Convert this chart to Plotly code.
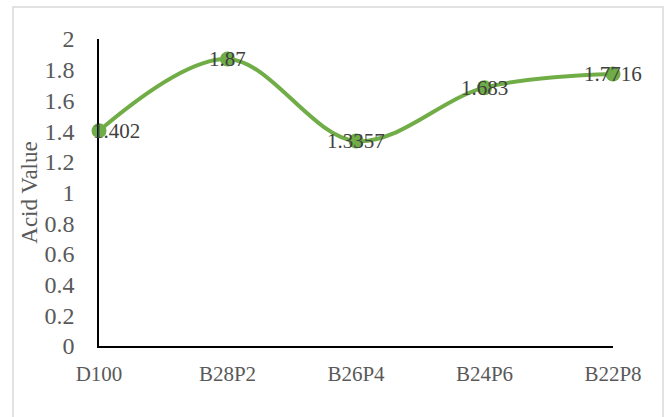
import plotly.graph_objects as go

categories = ["D100", "B28P2", "B26P4", "B24P6", "B22P8"]
acid_values = [1.402, 1.87, 1.3357, 1.683, 1.7716]
label_texts = ["1.402", "1.87", "1.3357", "1.683", "1.7716"]
y_ticks = [0, 0.2, 0.4, 0.6, 0.8, 1, 1.2, 1.4, 1.6, 1.8, 2]
y_tick_labels = ["0", "0.2", "0.4", "0.6", "0.8", "1", "1.2", "1.4", "1.6", "1.8", "2"]

GREEN = "#70AD47"
TEXT = "#404040"
TICK = "#595959"
FONT = "Liberation Serif"

L, R, T, B = 99, 54, 39, 71
W, H = 667, 417
pw, ph = W - L - R, H - T - B

fig = go.Figure()
fig.add_trace(go.Scatter(
    x=list(range(len(categories))),
    y=acid_values,
    mode="lines+markers",
    line=dict(color=GREEN, width=4, shape="spline", smoothing=1.0),
    marker=dict(color=GREEN, size=15),
    cliponaxis=False,
    hoverinfo="skip",
    showlegend=False,
))

xshifts = [17, 0, 0, 0, 0]
for i, (v, t) in enumerate(zip(acid_values, label_texts)):
    fig.add_annotation(x=i, y=v, text=t, showarrow=False, xshift=xshifts[i],
                       font=dict(family=FONT, size=21, color=TEXT))

# chart border
fig.add_shape(type="rect", xref="paper", yref="paper",
              x0=(13 - L) / pw, x1=(663 - L) / pw,
              y0=(H - B - 425) / ph, y1=(H - B - 7) / ph,
              line=dict(color="#D9D9D9", width=1.5), fillcolor="rgba(0,0,0,0)", layer="below")

fig.update_layout(
    width=W, height=H,
    margin=dict(l=L, r=R, t=T, b=B, pad=0),
    paper_bgcolor="white", plot_bgcolor="white",
    font=dict(family=FONT, color=TICK),
    xaxis=dict(
        range=[0, len(categories) - 1],
        tickmode="array", tickvals=list(range(len(categories))), ticktext=categories,
        showgrid=False, zeroline=False, showline=True, linecolor="black", linewidth=1.5,
        ticks="", tickfont=dict(family=FONT, size=21, color=TICK),
        ticklabelstandoff=8,
    ),
    yaxis=dict(
        range=[0, 2],
        tickmode="array", tickvals=y_ticks, ticktext=y_tick_labels,
        showgrid=False, zeroline=False, showline=True, linecolor="black", linewidth=1.5,
        ticks="", tickfont=dict(family=FONT, size=24, color=TICK),
        ticklabelstandoff=18,
        title=dict(text="Acid Value", font=dict(family=FONT, size=23, color=TICK), standoff=0),
    ),
)

fig.write_html("out.html")
